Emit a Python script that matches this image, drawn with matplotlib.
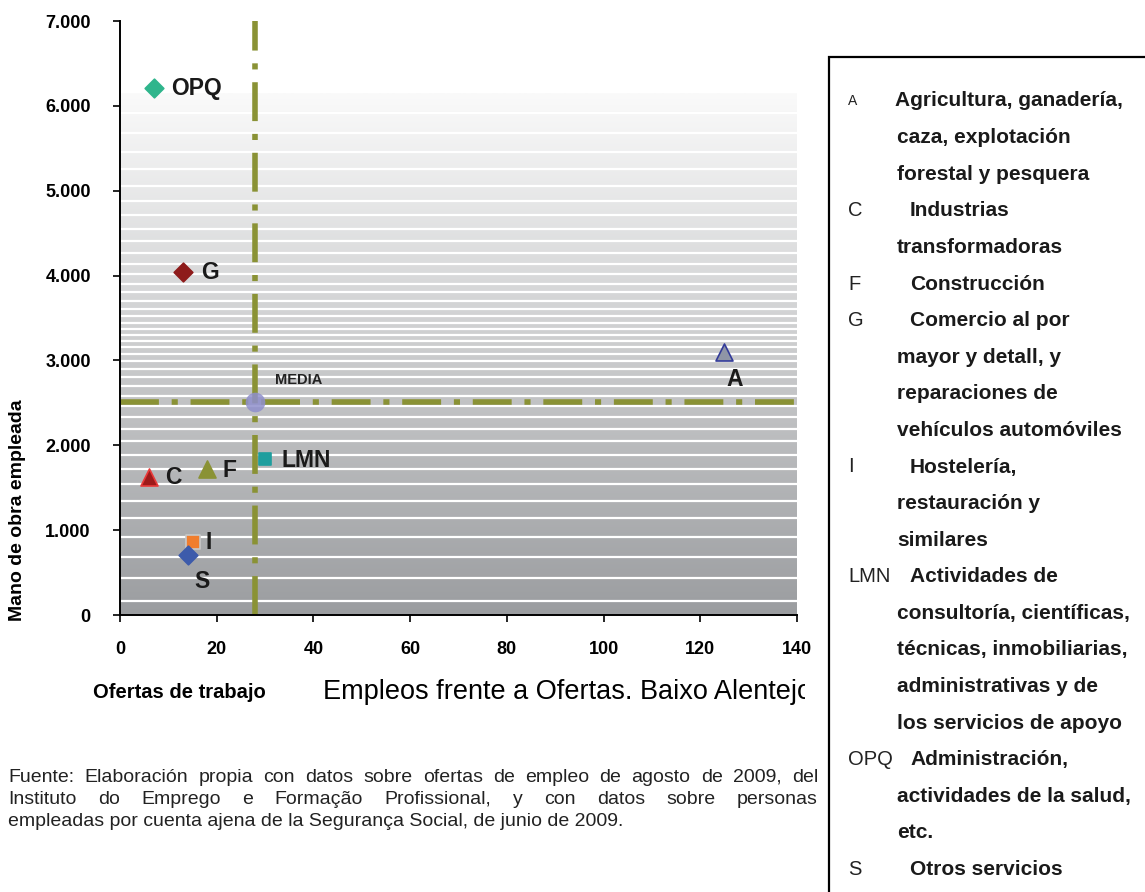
import numpy as np
import matplotlib
matplotlib.use("Agg")
import matplotlib.pyplot as plt
from matplotlib.colors import LinearSegmentedColormap
from matplotlib.patches import Rectangle
from matplotlib.transforms import Bbox, TransformedBbox

# datos: ofertas de trabajo (x) y mano de obra empleada (y)
codes = ["OPQ", "G", "A", "LMN", "F", "C", "I", "S"]
ofertas = [7, 13, 125, 30, 18, 6, 15, 14]
empleados = [6210, 4040, 3100, 1840, 1720, 1630, 860, 710]
media_x = 28
media_y = 2510

leyenda = [
    ("A", ["Agricultura, ganadería,", "caza, explotación", "forestal y pesquera"]),
    ("C", ["Industrias", "transformadoras"]),
    ("F", ["Construcción"]),
    ("G", ["Comercio al por", "mayor y detall, y", "reparaciones de", "vehículos automóviles"]),
    ("I", ["Hostelería,", "restauración y", "similares"]),
    ("LMN", ["Actividades de", "consultoría, científicas,", "técnicas, inmobiliarias,",
             "administrativas y de", "los servicios de apoyo"]),
    ("OPQ", ["Administración,", "actividades de la salud,", "etc."]),
    ("S", ["Otros servicios"]),
]

fuente = ["Fuente: Elaboración propia con datos sobre ofertas de empleo de agosto de 2009, del",
          "Instituto do Emprego e Formação Profissional, y con datos sobre personas",
          "empleadas por cuenta ajena de la Segurança Social, de junio de 2009."]

# estilos de marcador por sector
estilos = {
    "OPQ": dict(marker="D", color="#2fb58c", edge="#2fb58c", s=90),
    "G":   dict(marker="D", color="#8e1b1b", edge="#8e1b1b", s=90),
    "A":   dict(marker="^", color="#8f95a6", edge="#333b9a", s=150),
    "LMN": dict(marker="s", color="#1e9e9e", edge="#1e9e9e", s=80),
    "F":   dict(marker="^", color="#8a9235", edge="#8a9235", s=150),
    "C":   dict(marker="^", color="#9e1a1a", edge="#e83a3a", s=150),
    "I":   dict(marker="s", color="#f07d2e", edge="#c8c8c8", s=90),
    "S":   dict(marker="D", color="#3d5bab", edge="#3d5bab", s=90),
}
# desplazamiento de las etiquetas (pixeles)
offs = {"OPQ": (17, 0), "G": (18, 0), "A": (2, -28), "LMN": (16, -2),
        "F": (15, -1), "C": (16, -1), "I": (13, 0), "S": (7, -27)}

arial = ["Liberation Sans", "DejaVu Sans"]

fig = plt.figure(figsize=(11.45, 8.92), dpi=100)
ax = fig.add_axes([120 / 1145, 1 - 615 / 892, 677 / 1145, 594 / 892])
ax.set_xlim(0, 140)
ax.set_ylim(0, 7000)

# fondo degradado con franjas blancas
cmap = LinearSegmentedColormap.from_list("fondo", ["#9b9da0", "#fafafa"])
grad = np.linspace(0, 1, 256).reshape(-1, 1)
ax.imshow(grad, extent=[0, 140, 0, 6150], origin="lower", aspect="auto",
          cmap=cmap, zorder=0)
y = 3300.0
levels = [y]
while y < 6000:
    y += 70 + 0.07 * abs(y - 3300)
    if y < 6100:
        levels.append(y)
y = 3300.0
while y > 150:
    y -= 70 + 0.07 * abs(y - 3300)
    if y > 150:
        levels.append(y)
for lv in levels:
    ax.axhline(lv, color="white", lw=1.6, zorder=1)

# lineas de la media
dash = dict(color="#8a9235", lw=4, dashes=(7, 2.3, 1.1, 2.3), solid_capstyle="butt",
            dash_capstyle="butt", zorder=2)
ax.axvline(media_x, **dash)
ax.axhline(media_y, **dash)
ax.scatter([media_x], [media_y], s=200, color="#8f8fcc", alpha=0.85, zorder=3, lw=0)
ax.annotate("MEDIA", (media_x, media_y), xytext=(20, 22), textcoords="offset pixels",
            fontsize=10.5, fontweight="bold", family=arial, va="center", color="#222222")

for c, xv, yv in zip(codes, ofertas, empleados):
    st = estilos[c]
    ax.scatter([xv], [yv], marker=st["marker"], s=st["s"], color=st["color"],
               edgecolors=st["edge"], linewidths=1.2, zorder=4)
    dx, dy = offs[c]
    ax.annotate(c, (xv, yv), xytext=(dx, dy), textcoords="offset pixels",
                fontsize=16.5, fontweight="bold", family=arial, ha="left", va="center",
                color="#1a1a1a")

ax.set_xticks(np.arange(0, 141, 20))
ax.set_yticks(np.arange(0, 7001, 1000))
ax.set_yticklabels(["0"] + [f"{v // 1000}.000" for v in range(1000, 7001, 1000)])
for lab in ax.get_xticklabels() + ax.get_yticklabels():
    lab.set_family(arial)
    lab.set_fontweight("bold")
    lab.set_fontsize(13)
ax.tick_params(axis="y", length=5, width=1.2, pad=16)
ax.tick_params(axis="x", length=5, width=1.2, pad=14)
ax.spines["top"].set_visible(False)
ax.spines["right"].set_visible(False)
ax.spines["left"].set_linewidth(1.4)
ax.spines["bottom"].set_linewidth(1.4)

fig.text(18 / 1145, 1 - 510 / 892, "Mano de obra empleada", rotation=90, fontsize=14,
         fontweight="bold", family=arial, ha="center", va="center")
fig.text(93 / 1145, 1 - 692 / 892, "Ofertas de trabajo", fontsize=14.5, fontweight="bold",
         family=arial, ha="left", va="center")
t = fig.text(323 / 1145, 1 - 692 / 892, "Empleos frente a Ofertas. Baixo Alentejo",
             fontsize=19.5, family=arial, ha="left", va="center")
t.set_clip_box(TransformedBbox(Bbox([[0, 0], [805 / 1145, 1]]), fig.transFigure))
t.set_clip_on(True)

# recuadro de la leyenda
fig.patches.append(Rectangle((829 / 1145, -0.05), 0.4, 1 - 57 / 892 + 0.05,
                             transform=fig.transFigure, fill=False, ec="black", lw=1.6))
line = 0
for code, textos in leyenda:
    yy = 1 - (101 + line * 36.6) / 892
    fig.text(848 / 1145, yy, code, fontsize=10 if code == "A" else 14.5, family=arial,
             ha="left", va="center", color="#222222")
    for i, tx in enumerate(textos):
        yy = 1 - (101 + line * 36.6) / 892
        x0 = (895 if code == "A" else 910) if i == 0 else 897
        fig.text(x0 / 1145, yy, tx, fontsize=15, fontweight="bold", family=arial,
                 ha="left", va="center", color="#1a1a1a")
        line += 1

# texto de la fuente, justificado
renderer = fig.canvas.get_renderer()
left, right = 8, 818
for k, linea in enumerate(fuente):
    yy = 1 - (777 + k * 22.5) / 892
    if k == len(fuente) - 1:
        fig.text(left / 1145, yy, linea, fontsize=14, family=arial, va="center",
                 color="#222222")
        continue
    words = linea.split()
    arts = [fig.text(0, yy, w, fontsize=14, family=arial, va="center", color="#222222")
            for w in words]
    widths = [a.get_window_extent(renderer).width for a in arts]
    gap = (right - left - sum(widths)) / (len(words) - 1)
    xp = left
    for a, w in zip(arts, widths):
        a.set_x(xp / 1145)
        xp += w + gap

fig.savefig("out.png", dpi=100)
